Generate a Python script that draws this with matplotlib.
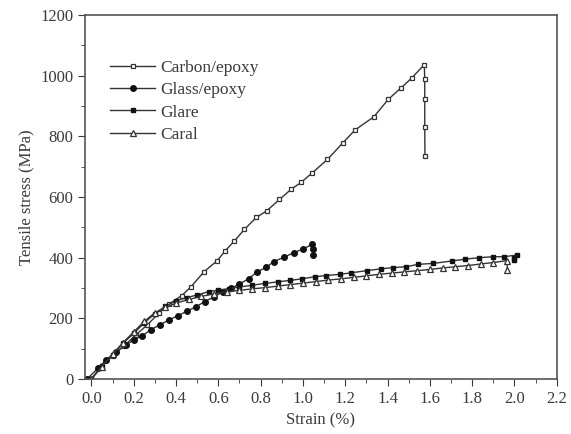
import numpy as np
import matplotlib
matplotlib.use("Agg")
import matplotlib.pyplot as plt

# strain (%) / stress (MPa)
carbon_x = [0.0, 0.04, 0.10, 0.155, 0.21, 0.264, 0.319, 0.365, 0.427, 0.471, 0.533, 0.595, 0.633,
            0.676, 0.723, 0.780, 0.828, 0.889, 0.945, 0.991, 1.041, 1.116, 1.189, 1.246, 1.336,
            1.403, 1.464, 1.515, 1.574, 1.576, 1.576, 1.576, 1.577]
carbon_y = [0, 35, 76, 109, 145, 178, 217, 246, 275, 304, 354, 390, 423,
            455, 493, 533, 554, 592, 626, 648, 678, 724, 779, 821, 865,
            922, 960, 993, 1037, 988, 925, 831, 737]

glass_x = [-0.02, 0.031, 0.07, 0.117, 0.163, 0.202, 0.241, 0.28, 0.323, 0.365, 0.407, 0.454, 0.494,
           0.536, 0.58, 0.622, 0.66, 0.699, 0.743, 0.785, 0.827, 0.862, 0.909, 0.956, 1.002,
           1.045, 1.049, 1.049]
glass_y = [0, 35, 63, 90, 112, 129, 142, 162, 178, 194, 208, 224, 238,
           255, 271, 288, 299, 313, 330, 354, 368, 387, 401, 416, 429,
           444, 429, 409]

glare_x = [0.0, 0.05, 0.10, 0.15, 0.20, 0.25, 0.30, 0.35, 0.40, 0.45, 0.50, 0.555, 0.60, 0.65,
           0.70, 0.76, 0.82, 0.88, 0.94, 0.994, 1.057, 1.111, 1.176, 1.228, 1.301, 1.368, 1.425,
           1.487, 1.546, 1.616, 1.705, 1.767, 1.834, 1.90, 1.953, 2.012, 2.0, 1.997]
glare_y = [0, 42, 80, 118, 150, 185, 215, 240, 258, 268, 277, 288, 293, 298,
           303, 309, 315, 320, 325, 330, 337, 341, 345, 350, 357, 363, 367,
           370, 378, 381, 389, 395, 400, 403, 403, 409, 398, 392]

caral_x = [0.0, 0.05, 0.10, 0.15, 0.20, 0.25, 0.30, 0.35, 0.40, 0.46, 0.52, 0.58, 0.64, 0.70,
           0.76, 0.82, 0.88, 0.94, 1.0, 1.06, 1.12, 1.18, 1.24, 1.30, 1.36, 1.42, 1.48, 1.54,
           1.60, 1.66, 1.72, 1.78, 1.84, 1.90, 1.965, 1.966]
caral_y = [0, 40, 82, 120, 155, 190, 218, 236, 250, 262, 272, 281, 287, 292,
           297, 301, 306, 311, 316, 321, 326, 330, 335, 340, 345, 349, 353, 357,
           361, 366, 370, 374, 379, 384, 390, 360]

plt.rcParams['font.family'] = ['Liberation Serif', 'DejaVu Serif']
txt = '#3a3a3a'
ln = '#333333'

fig = plt.figure(figsize=(5.71, 4.34), dpi=100)
ax = fig.add_axes([0.149, 0.127, 0.826, 0.838])

ax.plot(carbon_x, carbon_y, '-s', color=ln, lw=1, ms=3.5, mfc='white', mec=ln, mew=0.9, label='Carbon/epoxy')
ax.plot(glass_x, glass_y, '-o', color=ln, lw=1, ms=4, mfc='#111111', mec='#111111', label='Glass/epoxy')
ax.plot(glare_x, glare_y, '-s', color=ln, lw=1, ms=3.5, mfc='#111111', mec='#111111', label='Glare')
ax.plot(caral_x, caral_y, '-^', color=ln, lw=1, ms=4, mfc='white', mec=ln, mew=0.9, label='Caral')

ax.set_xlim(-0.03, 2.2)
ax.set_ylim(0, 1200)
ax.set_xticks(np.arange(0, 2.21, 0.2))
ax.set_xticks(np.arange(0.1, 2.2, 0.2), minor=True)
ax.set_yticks(np.arange(0, 1201, 200))
ax.set_yticks(np.arange(100, 1200, 200), minor=True)
ax.xaxis.set_major_formatter(matplotlib.ticker.FormatStrFormatter('%.1f'))
ax.tick_params(which='both', direction='out', colors=txt, labelsize=12, top=False, right=False)
ax.tick_params(which='major', length=5)
ax.tick_params(which='minor', length=3)
for s in ax.spines.values():
    s.set_color('#555555')
    s.set_linewidth(1.2)

ax.set_xlabel('Strain (%)', fontsize=12, color=txt)
ax.set_ylabel('Tensile stress (MPa)', fontsize=12, color=txt)

leg = ax.legend(loc='upper left', bbox_to_anchor=(0.02, 0.92), frameon=False, fontsize=12.5,
                handlelength=2.6, labelspacing=0.35, handletextpad=0.3, labelcolor=txt)

fig.savefig('out.png', dpi=100)
